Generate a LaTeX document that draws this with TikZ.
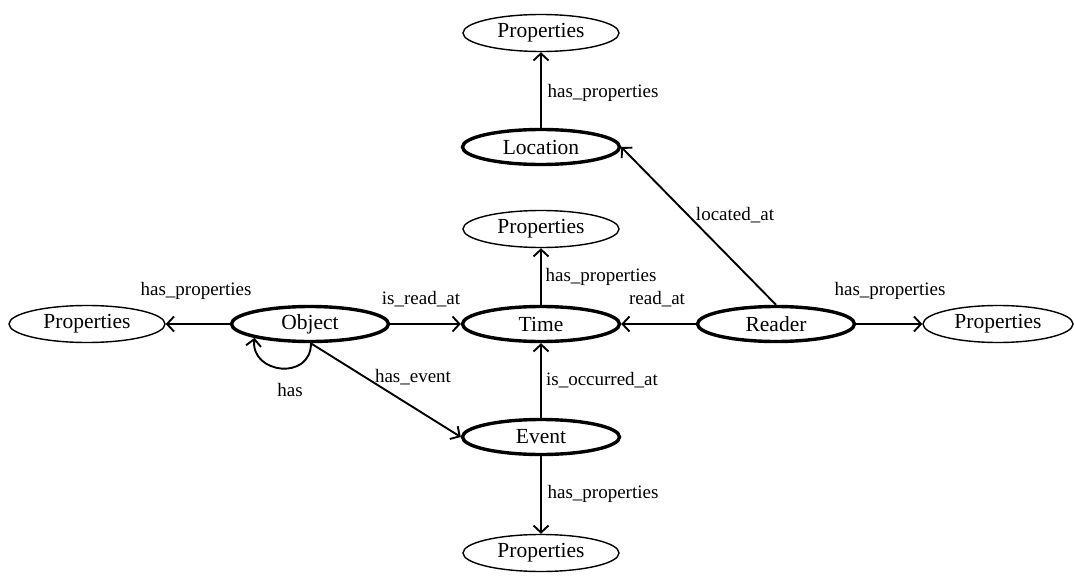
\documentclass[tikz,border=0pt]{standalone}
\usepackage{fontspec}
\setmainfont{Liberation Serif}
\usetikzlibrary{shapes.geometric,arrows.meta}
\tikzset{
  ent/.style={ellipse,draw,line width=1.4pt,minimum width=156pt,minimum height=37pt,inner sep=0pt,font=\fontsize{21.5}{24}\selectfont},
  mainent/.style={ent,line width=3.4pt,minimum width=157pt,minimum height=35pt},
  lbl/.style={inner sep=0pt,font=\fontsize{19}{22}\selectfont},
  arr/.style={line width=1.9pt,-{Straight Barb[length=7pt,width=15pt,line width=1.9pt]}}
}
\begin{document}
\begin{tikzpicture}[x=1pt,y=-1pt]
\useasboundingbox (0,0) rectangle (1074,578);
\node[ent] (ptop) at (541,33) {Properties};
\node[mainent] (loc) at (541,147) {Location};
\node[ent] (pmid) at (541,229) {Properties};
\node[mainent] (time) at (541,324) {Time};
\node[mainent] (obj) at (310,324) {Object};
\node[ent] (pleft) at (87,324) {Properties};
\node[mainent] (rd) at (776,324) {Reader};
\node[ent,minimum width=150pt] (pright) at (998,324) {Properties};
\node[mainent] (ev) at (541,437) {Event};
\node[ent] (pbot) at (541,553) {Properties};

\draw[arr] (loc) -- (ptop);
\draw[arr] (rd.north) -- (loc.east);
\draw[arr] (time) -- (pmid);
\draw[arr] (obj) -- (time);
\draw[arr] (rd) -- (time);
\draw[arr] (rd) -- (pright);
\draw[arr] (obj) -- (pleft);
\draw[arr] (ev) -- (time);
\draw[arr] (ev) -- (pbot);
\draw[arr] (obj.-88) -- (ev.west);
\draw[arr] (obj.-87) .. controls +(0,38) and +(-4,36) .. (obj.-166);

\node[lbl] (l1) at (603,93) {has\_properties};
\node[lbl] (l2) at (735,215) {located\_at};
\node[lbl] (l3) at (601,277) {has\_properties};
\node[lbl] (l4) at (196,291) {has\_properties};
\node[lbl] (l5) at (421,299) {is\_read\_at};
\node[lbl] (l6) at (657,299) {read\_at};
\node[lbl] (l7) at (890,291) {has\_properties};
\node[lbl] (l8) at (413,377) {has\_event};
\node[lbl] (l9) at (602,380) {is\_occurred\_at};
\node[lbl] (l10) at (290,390) {has};
\node[lbl] (l11) at (603,494) {has\_properties};
\end{tikzpicture}
\end{document}
